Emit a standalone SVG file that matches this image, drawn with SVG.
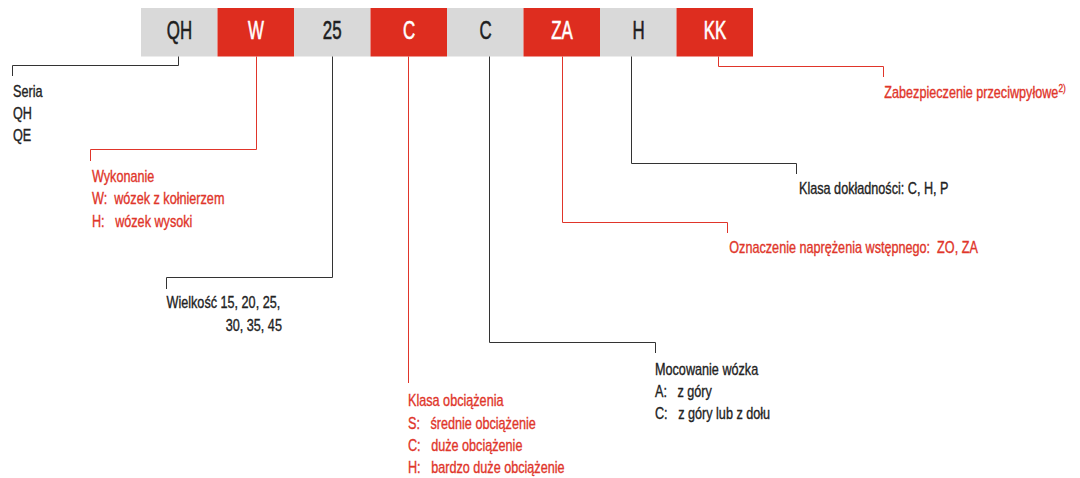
<svg xmlns="http://www.w3.org/2000/svg" width="1080" height="478" viewBox="0 0 1080 478" xml:space="preserve">
<style>
.bg{fill:#d9d9d9}
.br{fill:#de2d1f}
.bt{font-family:"Liberation Sans",Arial,sans-serif;font-size:26px;text-anchor:middle;stroke-width:0.6}
.dk{fill:#1e1e1e;stroke:#1e1e1e}
.wh{fill:#ffffff;stroke:#ffffff}
.t{font-family:"Liberation Sans",Arial,sans-serif;font-size:16px;stroke-width:0.35}
.tk{fill:#222222;stroke:#222222}
.tr{fill:#e0352a;stroke:#e0352a}
.ck{fill:none;stroke:#333333;stroke-width:1}
.cr{fill:none;stroke:#e0352a;stroke-width:1}
</style>
<rect width="1080" height="478" fill="#ffffff"/>
<g id="boxes">
<g id="box-QH"><rect class="bg" x="141" y="8" width="76.5" height="48.5"/><text class="bt dk" transform="translate(179.5,39.3) scale(0.65,1)">QH</text></g>
<g id="box-W"><rect class="br" x="217.5" y="8" width="76.5" height="48.5"/><text class="bt wh" transform="translate(256,39.3) scale(0.65,1)">W</text></g>
<g id="box-25"><rect class="bg" x="294" y="8" width="76.5" height="48.5"/><text class="bt dk" transform="translate(332.2,39.3) scale(0.65,1)">25</text></g>
<g id="box-C1"><rect class="br" x="370.5" y="8" width="76.5" height="48.5"/><text class="bt wh" transform="translate(409,39.3) scale(0.65,1)">C</text></g>
<g id="box-C2"><rect class="bg" x="447" y="8" width="76.5" height="48.5"/><text class="bt dk" transform="translate(485.5,39.3) scale(0.65,1)">C</text></g>
<g id="box-ZA"><rect class="br" x="523.5" y="8" width="76.5" height="48.5"/><text class="bt wh" transform="translate(562,39.3) scale(0.65,1)">ZA</text></g>
<g id="box-H"><rect class="bg" x="600" y="8" width="76.5" height="48.5"/><text class="bt dk" transform="translate(638.5,39.3) scale(0.65,1)">H</text></g>
<g id="box-KK"><rect class="br" x="676.5" y="8" width="76.5" height="48.5"/><text class="bt wh" transform="translate(715,39.3) scale(0.65,1)">KK</text></g>
</g>
<g id="connectors">
<polyline class="ck" points="178.5,56.5 178.5,65.5 12.5,65.5 12.5,76"/>
<polyline class="cr" points="256.5,56.5 256.5,149.5 90.5,149.5 90.5,161"/>
<polyline class="ck" points="332.5,56.5 332.5,277.5 166.5,277.5 166.5,289"/>
<polyline class="cr" points="408.5,56.5 408.5,383"/>
<polyline class="ck" points="489.5,56.5 489.5,342.5 655.5,342.5 655.5,353"/>
<polyline class="cr" points="562.5,56.5 562.5,222.5 727.5,222.5 727.5,233"/>
<polyline class="ck" points="631.5,56.5 631.5,163.5 796.5,163.5 796.5,174"/>
<polyline class="cr" points="718.5,56.5 718.5,66.5 883.5,66.5 883.5,77"/>
</g>
<g id="seria" class="t tk" transform="translate(13,0) scale(0.79,1)">
<text x="0" y="97">Seria</text>
<text x="0" y="119">QH</text>
<text x="0" y="141">QE</text>
</g>
<g id="wykonanie" class="t tr" transform="translate(92,0) scale(0.79,1)">
<text x="0" y="182">Wykonanie</text>
<text x="0" y="204.5">W:&#160;&#160;wózek z kołnierzem</text>
<text x="0" y="227">H:&#160;&#160;&#160;wózek wysoki</text>
</g>
<g id="wielkosc" class="t tk" transform="translate(166.5,0) scale(0.79,1)">
<text x="0" y="308.5">Wielkość 15, 20, 25,</text>
<text x="75" y="331">30, 35, 45</text>
</g>
<g id="klasa-obciazenia" class="t tr" transform="translate(408,0) scale(0.79,1)">
<text x="0" y="406.5">Klasa obciążenia</text>
<text x="0" y="429">S:&#160;&#160;&#160;średnie obciążenie</text>
<text x="0" y="451">C:&#160;&#160;&#160;duże obciążenie</text>
<text x="0" y="473.5">H:&#160;&#160;&#160;bardzo duże obciążenie</text>
</g>
<g id="mocowanie" class="t tk" transform="translate(655,0) scale(0.79,1)">
<text x="0" y="375">Mocowanie wózka</text>
<text x="0" y="397.5">A:&#160;&#160;&#160;z góry</text>
<text x="0" y="419.5">C:&#160;&#160;&#160;z góry lub z dołu</text>
</g>
<g id="klasa-dokladnosci" class="t tk" transform="translate(799,0) scale(0.79,1)">
<text x="0" y="194.5">Klasa dokładności: C, H, P</text>
</g>
<g id="oznaczenie" class="t tr" transform="translate(729.3,0) scale(0.79,1)">
<text x="0" y="253.3">Oznaczenie naprężenia wstępnego:&#160;&#160;ZO, ZA</text>
</g>
<g id="zabezpieczenie" class="t tr" transform="translate(884.3,0) scale(0.79,1)">
<text x="0" y="98.3">Zabezpieczenie przeciwpyłowe<tspan font-size="10.5px" dy="-6">2)</tspan></text>
</g>
</svg>
